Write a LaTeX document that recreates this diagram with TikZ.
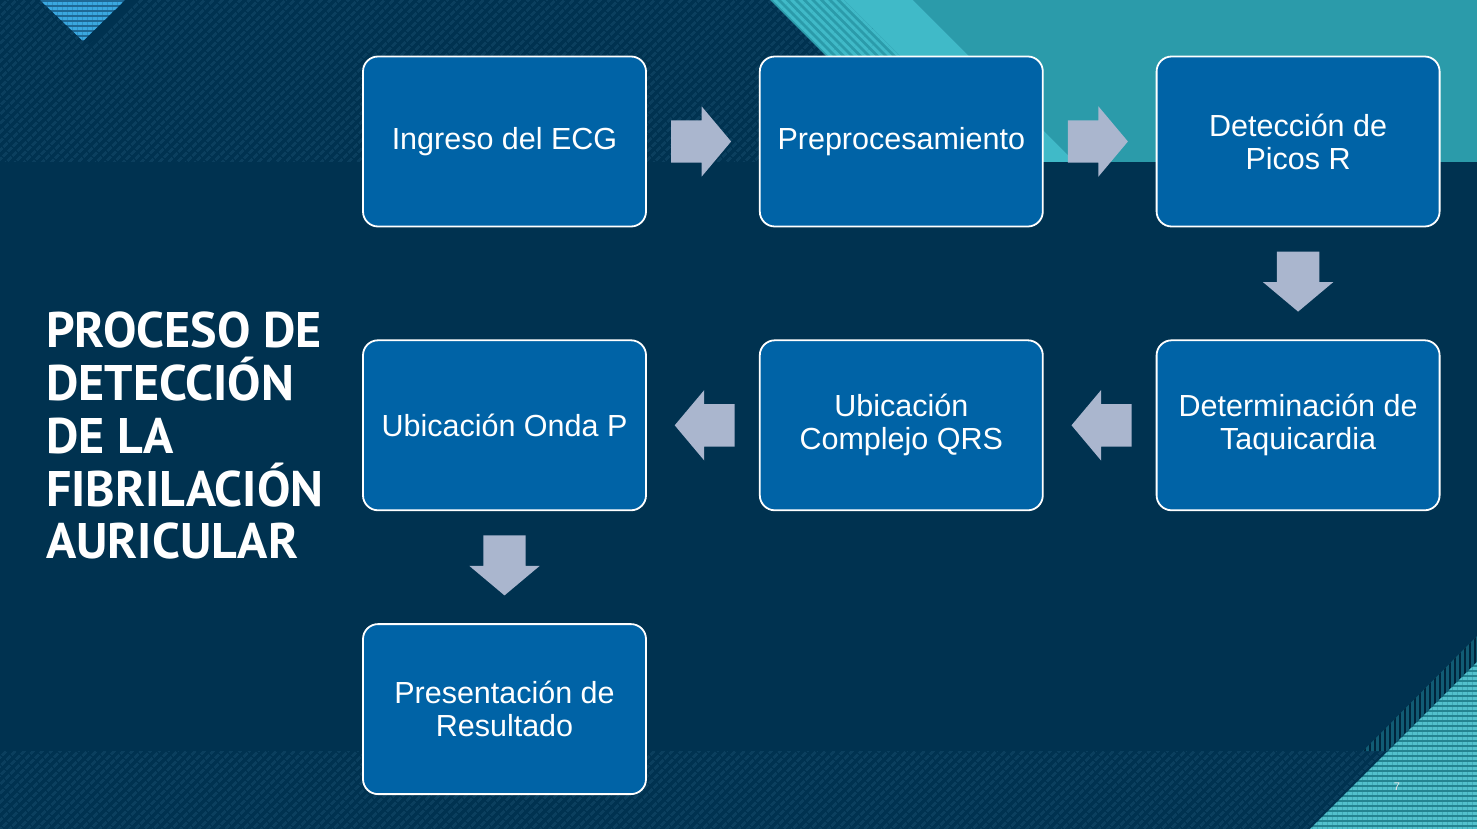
\documentclass[tikz,border=0pt]{standalone}
\usepackage{fontspec}
\setmainfont{Liberation Sans}
\newfontfamily\titlefont{PT Sans}
\usetikzlibrary{positioning, shapes.arrows, patterns.meta}
\definecolor{fondo}{RGB}{0,50,80}
\definecolor{rayado}{RGB}{11,63,94}
\definecolor{azulcaja}{RGB}{0,99,166}
\definecolor{gris}{RGB}{170,182,206}
\definecolor{tealclaro}{RGB}{64,186,200}
\definecolor{tealoscuro}{RGB}{43,155,170}
\definecolor{celeste}{RGB}{58,168,224}
\definecolor{celesteosc}{RGB}{30,105,150}
\tikzset{
        node distance=112pt,
        caja/.style={rectangle, rounded corners=15pt, draw=white, line width=1.8pt, fill=azulcaja, text=white,
          minimum width=283pt, minimum height=170pt, align=center, inner sep=4pt, font=\fontsize{30.5}{33}\selectfont},
        flecha/.style={single arrow, fill=gris, minimum height=60pt, inner xsep=0pt, inner ysep=21pt,
          single arrow head extend=14pt, single arrow tip angle=100},
        rayas/.style={pattern={Lines[angle=45, distance=6.4pt, line width=3pt]}, pattern color=rayado},
        titulo/.style={text=white, align=left, inner sep=0pt, font=\titlefont\bfseries\fontsize{50}{52.7}\selectfont},
        pagina/.style={text=white!85!gray, font=\fontsize{11}{11}\selectfont}
          }
\begin{document}
\begin{tikzpicture}[x=1pt, y=-1pt]
      \useasboundingbox (0,0) rectangle (1477,829);
      \fill[fondo] (0,0) rectangle (1477,829);
      \fill[rayas] (0,0) rectangle (1477,162);
      \fill[rayas] (0,751) rectangle (1477,829);
      \fill[tealoscuro] (913,0) -- (1477,0) -- (1477,162) -- (1075,162) -- cycle;
      \fill[tealclaro] (844,0) -- (913,0) -- (1075,162) -- (1006,162) -- cycle;
      \fill[tealoscuro] (770,0) -- (844,0) -- (1006,162) -- (932,162) -- cycle;
      \fill[pattern={Lines[angle=-45, distance=6pt, line width=3pt]}, pattern color=tealclaro]
        (770,0) -- (844,0) -- (1006,162) -- (932,162) -- cycle;
      \fill[fondo] (125,0) -- (138,0) -- (90,44) -- (83,41) -- cycle;
      \fill[celesteosc] (40,0) -- (125,0) -- (83,41) -- cycle;
      \fill[pattern={Lines[angle=0, distance=5pt, line width=3pt]}, pattern color=celeste]
        (40,0) -- (125,0) -- (83,41) -- cycle;
      \fill[fondo!60!tealoscuro] (1363,751) -- (1477,636) -- (1477,662) -- (1387,751) -- cycle;
      \fill[pattern={Lines[angle=90, distance=5pt, line width=2.5pt]}, pattern color=fondo!75!black]
        (1363,751) -- (1477,636) -- (1477,662) -- (1387,751) -- cycle;
      \fill[tealoscuro!85!black] (1310,829) -- (1477,662) -- (1477,829) -- cycle;
      \fill[pattern={Lines[angle=0, distance=5pt, line width=3pt]}, pattern color=tealclaro!90!white]
        (1310,829) -- (1477,662) -- (1477,829) -- cycle;
      \node[titulo, anchor=north west] (titulo) at (46,312) {PROCESO DE\\DETECCIÓN\\DE LA\\FIBRILACIÓN\\AURICULAR};
      \node[caja] (ingreso) at (504.5,141.5) {Ingreso del ECG};
      \node[caja, right=of ingreso] (prepro) {Preprocesamiento};
      \node[caja, right=of prepro] (picos) {Detección de\\Picos R};
      \node[caja, below=of picos] (taqui) {Determinación de\\Taquicardia};
      \node[caja, left=of taqui] (qrs) {Ubicación\\Complejo QRS};
      \node[caja, left=of qrs] (ondap) {Ubicación Onda P};
      \node[caja, below=of ondap] (result) {Presentación de\\Resultado};
      \node[flecha, right=24pt of ingreso, anchor=tail] (f1) {};
      \node[flecha, right=24pt of prepro, anchor=tail] (f2) {};
      \node[flecha, rotate=270, below=24pt of picos, anchor=tail] (f3) {};
      \node[flecha, rotate=180, left=24pt of taqui, anchor=tail] (f4) {};
      \node[flecha, rotate=180, left=24pt of qrs, anchor=tail] (f5) {};
      \node[flecha, rotate=270, below=24pt of ondap, anchor=tail] (f6) {};
      \node[pagina] (num) at (1397,787) {7};
\end{tikzpicture}
\end{document}
